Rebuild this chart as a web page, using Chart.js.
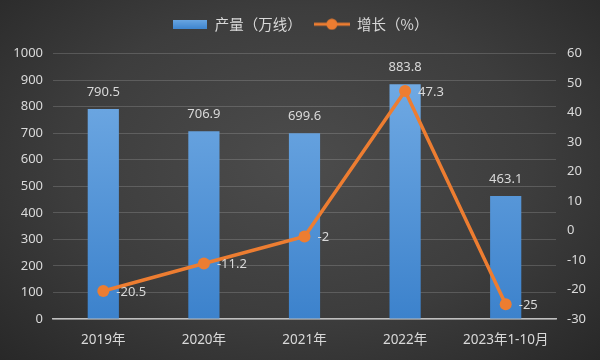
<!DOCTYPE html>
<html>
<head>
<meta charset="utf-8">
<script src="https://cdn.jsdelivr.net/npm/chart.js@4"></script>
<style>
html,body{margin:0;padding:0;}
body{width:600px;height:360px;overflow:hidden;
background:radial-gradient(ellipse at 50% 45%, #4c4c4c 0%, #3d3d3d 55%, #282828 100%);}
#wrap{position:relative;width:600px;height:360px;}
</style>
</head>
<body>
<div id="wrap"><canvas id="c" width="600" height="360"></canvas></div>
<script>
const categories = ['2019年','2020年','2021年','2022年','2023年1-10月'];
const output = [790.5, 706.9, 699.6, 883.8, 463.1];
const growth = [-20.5, -11.2, -2, 47.3, -25];
const leftTicks = [0,100,200,300,400,500,600,700,800,900,1000];
const rightTicks = [-30,-20,-10,0,10,20,30,40,50,60];
const seriesNames = ['产量（万线）','增长（%）'];

const FONT = "'Noto Sans','Noto Sans CJK SC',sans-serif";
const CJK = "'Noto Sans CJK SC','Noto Sans',sans-serif";
const TXT = '#d9d9d9';
const ORANGE = '#ed7d31';

function barIcon(){
  const c=document.createElement('canvas'); c.width=34; c.height=9;
  const g=c.getContext('2d');
  const gr=g.createLinearGradient(0,0,0,9); gr.addColorStop(0,'#6aa6e2'); gr.addColorStop(1,'#3f86d0');
  g.fillStyle=gr; g.fillRect(0,0,34,9); return c;
}
function lineIcon(){
  const c=document.createElement('canvas'); c.width=36; c.height=12;
  const g=c.getContext('2d');
  g.strokeStyle=ORANGE; g.lineWidth=3; g.beginPath(); g.moveTo(0,6); g.lineTo(36,6); g.stroke();
  g.fillStyle=ORANGE; g.beginPath(); g.arc(18,6,5.5,0,Math.PI*2); g.fill(); return c;
}
const icons=[barIcon(), lineIcon()];

const labelPlugin = {
  id:'valueLabels',
  afterInit(chart){
    const lg=chart.legend;
    if(lg){ const orig=lg.fit.bind(lg); lg.fit=function(){ orig(); this.height+=12; }; }
  },
  afterDatasetsDraw(chart){
    const ctx=chart.ctx; ctx.save();
    ctx.font = '13px '+FONT; ctx.fillStyle=TXT;
    const mBar=chart.getDatasetMeta(1);
    ctx.textAlign='center'; ctx.textBaseline='middle';
    mBar.data.forEach((el,i)=>{ ctx.fillText(String(output[i]), el.x, el.y-17); });
    const mLine=chart.getDatasetMeta(0);
    ctx.textAlign='left';
    mLine.data.forEach((el,i)=>{ ctx.fillText(String(growth[i]), el.x+13, el.y+1); });
    ctx.restore();
  }
};

new Chart(document.getElementById('c'),{
  data:{
    labels:categories,
    datasets:[
      {type:'line', label:seriesNames[1], data:growth, yAxisID:'y1', order:0,
       borderColor:ORANGE, backgroundColor:ORANGE, borderWidth:3.5,
       pointRadius:6, pointHoverRadius:6, pointBackgroundColor:ORANGE, pointBorderWidth:0, tension:0},
      {type:'bar', label:seriesNames[0], data:output, yAxisID:'y', order:1,
       backgroundColor(ctx){
         const a=ctx.chart.chartArea; if(!a) return '#5b9bd5';
         const g=ctx.chart.ctx.createLinearGradient(0,a.top,0,a.bottom);
         g.addColorStop(0,'#76aee6'); g.addColorStop(1,'#3c82cc'); return g;
       },
       categoryPercentage:1, barPercentage:0.31, borderWidth:0}
    ]
  },
  options:{
    responsive:false, animation:false,
    layout:{padding:{top:5,left:0,right:0,bottom:0}},
    plugins:{
      tooltip:{enabled:false},
      legend:{
        display:true, position:'top',
        labels:{
          color:TXT, font:{family:CJK,size:14.5}, padding:12,
          usePointStyle:true, pointStyleWidth:36,
          generateLabels(chart){
            return [
              {text:seriesNames[0], pointStyle:icons[0], fontColor:TXT, datasetIndex:1, lineWidth:0, strokeStyle:'transparent', fillStyle:'transparent'},
              {text:seriesNames[1], pointStyle:icons[1], fontColor:TXT, datasetIndex:0, lineWidth:0, strokeStyle:'transparent', fillStyle:'transparent'}
            ];
          }
        }
      }
    },
    scales:{
      x:{
        grid:{display:false, drawTicks:false},
        border:{display:true,color:'#bfbfbf',width:1.5},
        ticks:{color:TXT, font:{family:FONT,size:13.5}, padding:13, maxRotation:0, autoSkip:false},
        afterFit(s){ s.height=41; }
      },
      y:{
        position:'left', min:0, max:1000,
        afterBuildTicks(s){ s.ticks=leftTicks.map(v=>({value:v})); },
        grid:{color:'rgba(255,255,255,0.16)', lineWidth:1, drawTicks:false},
        border:{display:false},
        ticks:{color:TXT, font:{family:FONT,size:13}, padding:10, callback:v=>String(v)},
        afterFit(s){ s.width=53; }
      },
      y1:{
        position:'right', min:-30, max:60,
        afterBuildTicks(s){ s.ticks=rightTicks.map(v=>({value:v})); },
        grid:{display:false, drawTicks:false},
        border:{display:false},
        ticks:{color:TXT, font:{family:FONT,size:13}, padding:11, callback:v=>String(v)},
        afterFit(s){ s.width=44; }
      }
    }
  },
  plugins:[labelPlugin]
});
</script>
</body>
</html>
